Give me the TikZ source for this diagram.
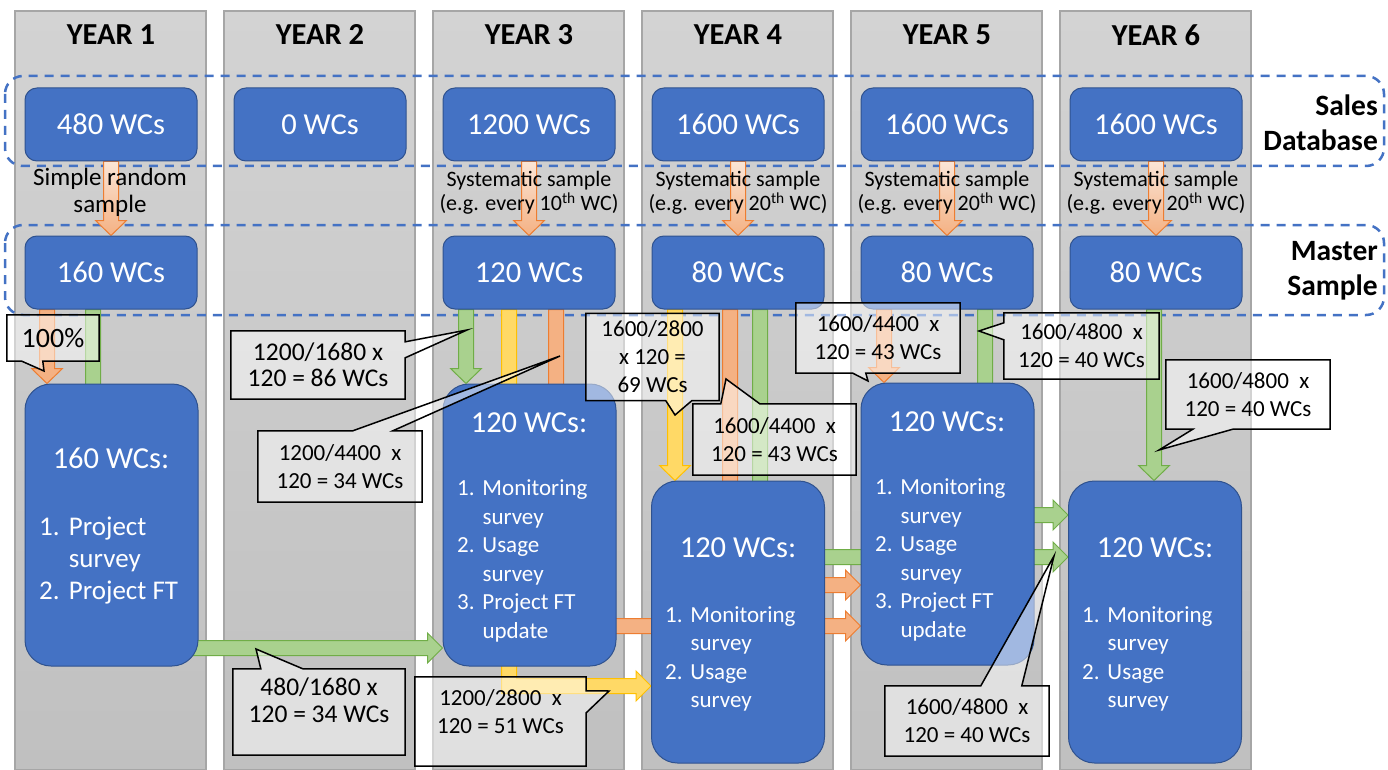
\documentclass[tikz,border=0pt]{standalone}
\usepackage{fontspec}
\setmainfont{Carlito}
\usepackage{xcolor}
\usepackage{tikz}
\usetikzlibrary{calc}

\definecolor{boxblue}{HTML}{4472C4}
\definecolor{boxline}{HTML}{2F528F}
\definecolor{coltop}{HTML}{D3D3D3}
\definecolor{colbottom}{HTML}{C0C0C0}
\definecolor{colline}{HTML}{A6A6A6}
\definecolor{orfill}{HTML}{F4B183}
\definecolor{orlight}{HTML}{FBE5D6}
\definecolor{orline}{HTML}{ED7D31}
\definecolor{grfill}{HTML}{A9D18E}
\definecolor{grline}{HTML}{70AD47}
\definecolor{yefill}{HTML}{FFD966}
\definecolor{yeline}{HTML}{FFC000}

\pgfdeclarelayer{back}
\pgfdeclarelayer{flow}
\pgfdeclarelayer{note}
\pgfdeclarelayer{front}
\pgfsetlayers{back,flow,main,note,front}

\newcommand\lnum[1]{\makebox[1.1em][l]{#1}}
\newcommand\lind{\hspace*{1.1em}}

% block arrow straight down, from #2 to the tip #3
\newcommand\downflow[3]{%
  \draw[#1] let \p1=(#2), \p2=(#3) in
    (\x1-7.5,\y1) -- (\x1-7.5,\y2+15) -- (\x1-15.5,\y2+15) -- (\x1,\y2)
    -- (\x1+15.5,\y2+15) -- (\x1+7.5,\y2+15) -- (\x1+7.5,\y1) -- cycle;}
% block arrow down, then right to the tip #3
\newcommand\elbowflow[3]{%
  \draw[#1] let \p1=(#2), \p2=(#3) in
    (\x1-7.5,\y1) -- (\x1-7.5,\y2-7.5) -- (\x2-15,\y2-7.5) -- (\x2-15,\y2-15)
    -- (\x2,\y2) -- (\x2-15,\y2+15) -- (\x2-15,\y2+7.5) -- (\x1+7.5,\y2+7.5)
    -- (\x1+7.5,\y1) -- cycle;}

\tikzset{
  yearcol/.style={draw=colline, line width=1.2pt, top color=coltop, bottom color=colbottom},
  yearhead/.style={font=\bfseries\fontsize{30.5}{35}\selectfont},
  rowlabel/.style={font=\bfseries\fontsize{29.5}{35}\selectfont, align=right, anchor=east, inner sep=0pt},
  dbframe/.style={draw=boxblue, line width=2.5pt, dash pattern=on 9pt off 7pt, rounded corners=18pt},
  wcbox/.style={draw=boxline, line width=1pt, fill=boxblue, rounded corners=12pt, text=white,
    font=\fontsize{30.5}{35}\selectfont, minimum width=172pt, minimum height=73pt, inner sep=0pt},
  bigbox/.style={draw=boxline, line width=1pt, fill=boxblue, rounded corners=26pt,
    minimum width=173pt, minimum height=282pt, inner sep=0pt},
  bighead/.style={text=white, font=\fontsize{30.5}{35}\selectfont, inner sep=0pt},
  biglist/.style={text=white, align=left, anchor=west, inner sep=0pt, font=\fontsize{23}{28.5}\selectfont},
  samplenote/.style={align=center, inner sep=0pt, font=\fontsize{22}{24}\selectfont},
  callnote/.style={align=center, inner sep=0pt, font=\fontsize{23}{28}\selectfont},
  callframe/.style={draw=black, line width=1.5pt, fill=white, fill opacity=0.5},
  pick/.style={draw=orline, line width=1pt, top color=orlight, bottom color=orfill},
  orflow/.style={draw=orline, line width=1pt, fill=orfill},
  grflow/.style={draw=grline, line width=1pt, fill=grfill},
  yeflow/.style={draw=yeline, line width=1pt, fill=yefill}
}

\begin{document}
\begin{tikzpicture}[x=1pt,y=-1pt]
\useasboundingbox (0,0) rectangle (1388,770);

\begin{pgfonlayer}{back}
\fill[white] (0,0) rectangle (1388,770);
\draw[yearcol] (15,11) rectangle (206,770);
\draw[yearcol] (224,11) rectangle (415,770);
\draw[yearcol] (433,11) rectangle (624,770);
\draw[yearcol] (642,11) rectangle (833,770);
\draw[yearcol] (851,11) rectangle (1042,770);
\draw[yearcol] (1060,11) rectangle (1251,770);
\node[yearhead] (yr1) at (111,35) {YEAR 1};
\node[yearhead] (yr2) at (320,35) {YEAR 2};
\node[yearhead] (yr3) at (529,35) {YEAR 3};
\node[yearhead] (yr4) at (738,35) {YEAR 4};
\node[yearhead] (yr5) at (947,35) {YEAR 5};
\node[yearhead] (yr6) at (1156,35) {YEAR 6};
\draw[dbframe] (5,76) rectangle (1384,166);
\draw[dbframe] (5,225) rectangle (1384,315);
\node[rowlabel] (sales) at (1378,122.5) {Sales\\Database};
\node[rowlabel] (master) at (1378,270.5) {Master\\Sample};
\end{pgfonlayer}

% sales database and master sample
\node[wcbox] (d1) at (111,124.5) {480 WCs};
\node[wcbox] (d2) at (320,124.5) {0 WCs};
\node[wcbox] (d3) at (529,124.5) {1200 WCs};
\node[wcbox] (d4) at (738,124.5) {1600 WCs};
\node[wcbox] (d5) at (947,124.5) {1600 WCs};
\node[wcbox] (d6) at (1156,124.5) {1600 WCs};
\node[wcbox] (m1) at (111,272.5) {160 WCs};
\node[wcbox] (m3) at (529,272.5) {120 WCs};
\node[wcbox] (m4) at (738,272.5) {80 WCs};
\node[wcbox] (m5) at (947,272.5) {80 WCs};
\node[wcbox] (m6) at (1156,272.5) {80 WCs};

\node[samplenote, font=\fontsize{25}{27}\selectfont] (s1) at (110,192) {Simple random\\sample};
\node[samplenote] (s3) at (529,193) {Systematic sample\\(e.g. every 10\textsuperscript{th} WC)};
\node[samplenote] (s4) at (738,193) {Systematic sample\\(e.g. every 20\textsuperscript{th} WC)};
\node[samplenote] (s5) at (947,193) {Systematic sample\\(e.g. every 20\textsuperscript{th} WC)};
\node[samplenote] (s6) at (1156,193) {Systematic sample\\(e.g. every 20\textsuperscript{th} WC)};

% survey boxes
\node[bigbox] (b1) at (111.5,525) {};
\node[bigbox] (b3) at (529.5,525) {};
\node[bigbox] (b4) at (738,622) {};
\node[bigbox] (b5) at (947.5,524) {};
\node[bigbox] (b6) at (1155,622) {};
\node[bighead] (h1) at (111,458) {160 WCs:};
\node[biglist, font=\fontsize{27}{32}\selectfont] (l1) at (39,561) {\lnum{1.}Project\\\lind survey\\\lnum{2.}Project FT};
\node[bighead] (h3) at (529,423) {120 WCs:};
\node[biglist] (l3) at (457,561) {\lnum{1.}Monitoring\\\lind survey\\\lnum{2.}Usage\\\lind survey\\\lnum{3.}Project FT\\\lind update};
\node[bighead] (h4) at (738,548) {120 WCs:};
\node[biglist] (l4) at (665,659) {\lnum{1.}Monitoring\\\lind survey\\\lnum{2.}Usage\\\lind survey};
\node[bighead] (h5) at (947,422) {120 WCs:};
\node[biglist] (l5) at (875,560) {\lnum{1.}Monitoring\\\lind survey\\\lnum{2.}Usage\\\lind survey\\\lnum{3.}Project FT\\\lind update};
\node[bighead] (h6) at (1155,548) {120 WCs:};
\node[biglist] (l6) at (1082,659) {\lnum{1.}Monitoring\\\lind survey\\\lnum{2.}Usage\\\lind survey};

% where the flows leave the master sample
\coordinate (o1) at ([xshift=-64pt]m1.south);
\coordinate (g1) at ([xshift=-18pt]m1.south);
\coordinate (g3) at ([xshift=-63pt]m3.south);
\coordinate (y3) at ([xshift=-20pt]m3.south);
\coordinate (o3) at ([xshift=27pt]m3.south);
\coordinate (y4) at ([xshift=-63pt]m4.south);
\coordinate (o4) at ([xshift=-8pt]m4.south);
\coordinate (g4) at ([xshift=22pt]m4.south);
\coordinate (o5) at ([xshift=-63pt]m5.south);
\coordinate (g5) at ([xshift=38pt]m5.south);
\coordinate (g6) at ([xshift=-2pt]m6.south);
% where they end
\coordinate (g1end) at (b3.west |- 0,648);
\coordinate (y3end) at (b4.west |- 0,686);
\coordinate (o3end) at (b5.west |- 0,626);
\coordinate (o4end) at (b5.west |- 0,585);
\coordinate (g4end) at (b6.west |- 0,557);
\coordinate (g5end) at (b6.west |- 0,515);

\begin{pgfonlayer}{flow}
\downflow{pick}{d1.south}{m1.north}
\downflow{pick}{d3.south}{m3.north}
\downflow{pick}{d4.south}{m4.north}
\downflow{pick}{d5.south}{m5.north}
\downflow{pick}{d6.south}{m6.north}
\downflow{orflow}{o1}{b1.north}
\elbowflow{grflow}{g1}{g1end}
\downflow{grflow}{g3}{b3.north}
\elbowflow{yeflow}{y3}{y3end}
\elbowflow{orflow}{o3}{o3end}
\downflow{yeflow}{y4}{b4.north}
\elbowflow{orflow}{o4}{o4end}
\elbowflow{grflow}{g4}{g4end}
\downflow{orflow}{o5}{b5.north}
\elbowflow{grflow}{g5}{g5end}
\downflow{grflow}{g6}{b6.north}
\end{pgfonlayer}

% callouts
\begin{pgfonlayer}{front}
\node[callnote, minimum width=92pt, minimum height=46pt, font=\fontsize{28}{32}\selectfont] (n100) at (53,338) {100\%};
\node[callnote, minimum width=174pt, minimum height=68pt, font=\fontsize{25.5}{26}\selectfont] (n86) at (318,365) {1200/1680 x\\120 = 86 WCs};
\node[callnote, minimum width=164pt, minimum height=71pt] (n34a) at (340,466.5) {1200/4400\ \ x\\120 = 34 WCs};
\node[callnote, minimum width=172pt, minimum height=62pt, font=\fontsize{25.5}{27}\selectfont] (n34b) at (319,700) {480/1680 x\\120 = 34 WCs};
\node[callnote, minimum width=171pt, minimum height=69pt] (n51) at (500.5,711.5) {1200/2800\ \ x\\120 = 51 WCs};
\node[callnote, minimum width=133pt, minimum height=87pt] (n69) at (652.5,357) {1600/2800\\x 120 =\\69 WCs};
\node[callnote, minimum width=163pt, minimum height=71pt] (n43a) at (774.5,439.5) {1600/4400\ \ x\\120 = 43 WCs};
\node[callnote, minimum width=164pt, minimum height=70pt] (n43b) at (878,338) {1600/4400\ \ x\\120 = 43 WCs};
\node[callnote, minimum width=155pt, minimum height=66pt] (n40a) at (1081.5,346) {1600/4800\ \ x\\120 = 40 WCs};
\node[callnote, minimum width=164pt, minimum height=69pt] (n40b) at (1248,394.5) {1600/4800\ \ x\\120 = 40 WCs};
\node[callnote, minimum width=164pt, minimum height=70pt] (n40c) at (967,721) {1600/4800\ \ x\\120 = 40 WCs};
\end{pgfonlayer}

\coordinate (p100) at (44,371);
\coordinate (p86) at (467,330);
\coordinate (p34a) at (560,356);
\coordinate (p34b) at (256,649);
\coordinate (p51) at (609,691);
\coordinate (p69) at (675,415);
\coordinate (p43a) at (726,379);
\coordinate (p43b) at (868,381);
\coordinate (p40a) at (979,331);
\coordinate (p40b) at (1159,450);
\coordinate (p40c) at (1054,556);

\begin{pgfonlayer}{note}
\draw[callframe] (n100.north west) -- (n100.north east) -- (n100.south east)
  -- ([xshift=36pt]n100.south west) -- (p100) -- ([xshift=15pt]n100.south west) -- (n100.south west) -- cycle;
\draw[callframe] (n86.north west) -- (n86.north east) -- ([yshift=-11pt]n86.north east)
  -- (p86) -- ([yshift=-27pt]n86.north east) -- (n86.south east) -- (n86.south west) -- cycle;
\draw[callframe] (n34a.north west) -- ([xshift=95pt]n34a.north west) -- (p34a)
  -- ([xshift=135pt]n34a.north west) -- (n34a.north east) -- (n34a.south east) -- (n34a.south west) -- cycle;
\draw[callframe] (n34b.north west) -- ([xshift=28pt]n34b.north west) -- (p34b)
  -- ([xshift=70pt]n34b.north west) -- (n34b.north east) -- ([yshift=-24pt]n34b.south east)
  -- ([yshift=-24pt]n34b.south west) -- cycle;
\draw[callframe] (n51.north west) -- (n51.north east) -- ([yshift=-14pt]n51.north east)
  -- (p51) -- ([yshift=-36pt]n51.north east) -- ([yshift=-20pt]n51.south east)
  -- ([yshift=-20pt]n51.south west) -- cycle;
\draw[callframe] (n69.north west) -- (n69.north east) -- (n69.south east)
  -- ([xshift=106pt]n69.south west) -- (p69) -- ([xshift=80pt]n69.south west) -- (n69.south west) -- cycle;
\draw[callframe] (n43a.north west) -- ([xshift=28pt]n43a.north west) -- (p43a)
  -- ([xshift=67pt]n43a.north west) -- (n43a.north east) -- (n43a.south east) -- (n43a.south west) -- cycle;
\draw[callframe] (n43b.north west) -- (n43b.north east) -- (n43b.south east)
  -- ([xshift=70pt]n43b.south west) -- (p43b) -- ([xshift=57pt]n43b.south west) -- (n43b.south west) -- cycle;
\draw[callframe] (n40a.north west) -- (n40a.north east) -- (n40a.south east) -- (n40a.south west)
  -- ([yshift=-27pt]n40a.north west) -- (p40a) -- ([yshift=-10pt]n40a.north west) -- cycle;
\draw[callframe] (n40b.north west) -- (n40b.north east) -- (n40b.south east)
  -- ([xshift=67pt]n40b.south west) -- (p40b) -- ([xshift=27pt]n40b.south west) -- (n40b.south west) -- cycle;
\draw[callframe] (n40c.north west) -- ([xshift=96pt]n40c.north west) -- (p40c)
  -- ([xshift=137pt]n40c.north west) -- (n40c.north east) -- (n40c.south east) -- (n40c.south west) -- cycle;
\end{pgfonlayer}
\end{tikzpicture}
\end{document}
